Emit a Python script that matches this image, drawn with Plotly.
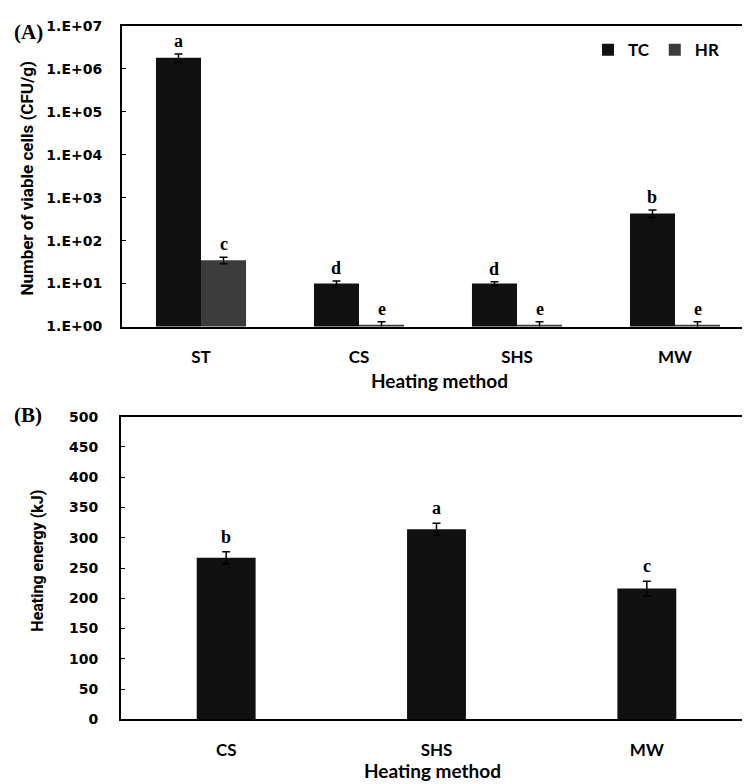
import math
import plotly.graph_objects as go

# ---------------- data ----------------
methods_a = ["ST", "CS", "SHS", "MW"]
tc_values = [1.8e6, 10.0, 10.0, 430.0]
tc_errors = [0.4e6, 1.5, 1.0, 85.0]
tc_letters = ["a", "d", "d", "b"]
hr_values = [35.0, 1.1, 1.1, 1.1]
hr_errors = [6.0, 0.2, 0.2, 0.2]
hr_letters = ["c", "e", "e", "e"]
log_tick_values = [1, 10, 100, 1e3, 1e4, 1e5, 1e6, 1e7]
log_tick_labels = ["1.E+00", "1.E+01", "1.E+02", "1.E+03", "1.E+04", "1.E+05", "1.E+06", "1.E+07"]

methods_b = ["CS", "SHS", "MW"]
energy_values = [267.0, 314.0, 216.0]
energy_errors = [10.0, 10.0, 12.0]
energy_letters = ["b", "a", "c"]
energy_ticks = [0, 50, 100, 150, 200, 250, 300, 350, 400, 450, 500]

# ---------------- style ----------------
W, H = 750, 784
TC_COLOR = "#111111"
HR_COLOR = "#3c3c3c"
TICK_FONT = dict(family="DejaVu Sans", size=14, color="black", weight="bold")
CAT_FONT = dict(family="Lato, Open Sans", size=17, color="black", weight="bold")
TITLE_FONT = dict(family="Lato, Open Sans", size=19, color="black", weight="bold")
YTITLE_FONT_A = dict(family="Liberation Sans Narrow, Arial Narrow, Roboto", size=17, color="black", weight="bold")
YTITLE_FONT_B = dict(family="Liberation Sans Narrow, Arial Narrow, Roboto", size=16, color="black", weight="bold")
LETTER_FONT = dict(family="Liberation Serif, DejaVu Serif", size=18, color="black", weight="bold")
PANEL_FONT = dict(family="Liberation Serif, DejaVu Serif", size=21, color="black", weight="bold")


def px_x(p):
    return p / W


def px_y(p):
    return 1 - p / H


BARGAP_A = 0.43
BARGAP_B = 0.72

fig = go.Figure()

err_style = dict(type="data", thickness=1.5, width=4, color="black")

fig.add_trace(go.Bar(
    x=methods_a, y=tc_values, name="TC", marker=dict(color=TC_COLOR, line=dict(width=0)),
    error_y=dict(array=tc_errors, **err_style), xaxis="x", yaxis="y", offsetgroup="tc",
))
fig.add_trace(go.Bar(
    x=methods_a, y=hr_values, name="HR", marker=dict(color=HR_COLOR, line=dict(width=0)),
    error_y=dict(array=hr_errors, **err_style), xaxis="x", yaxis="y", offsetgroup="hr",
))
fig.add_trace(go.Bar(
    x=methods_b, y=energy_values, name="Energy", showlegend=False,
    marker=dict(color=TC_COLOR, line=dict(width=0)), width=1 - BARGAP_B,
    error_y=dict(array=energy_errors, **err_style), xaxis="x2", yaxis="y2",
))

annotations = []
half = (1 - BARGAP_A) / 4
for i in range(len(methods_a)):
    annotations.append(dict(
        x=i - half, y=math.log10(tc_values[i] + tc_errors[i]), xref="x", yref="y",
        text=tc_letters[i], showarrow=False, yshift=13, font=LETTER_FONT, yanchor="middle"))
    annotations.append(dict(
        x=i + half, y=math.log10(hr_values[i] + hr_errors[i]), xref="x", yref="y",
        text=hr_letters[i], showarrow=False, yshift=13, font=LETTER_FONT, yanchor="middle"))
for i in range(len(methods_b)):
    annotations.append(dict(
        x=i, y=energy_values[i] + energy_errors[i], xref="x2", yref="y2",
        text=energy_letters[i], showarrow=False, yshift=15, font=LETTER_FONT, yanchor="middle"))

# panel labels and axis titles
annotations += [
    dict(x=px_x(20), y=px_y(16), xref="paper", yref="paper", text="(A)", showarrow=False,
         font=PANEL_FONT, xanchor="center", yanchor="middle"),
    dict(x=px_x(20), y=px_y(407), xref="paper", yref="paper", text="(B)", showarrow=False,
         font=PANEL_FONT, xanchor="center", yanchor="middle"),
    dict(x=px_x(432), y=px_y(372), xref="paper", yref="paper", text="Heating method", showarrow=False,
         font=TITLE_FONT, xanchor="center", yanchor="middle"),
    dict(x=px_x(424), y=0, xref="paper", yref="paper", text="Heating method", showarrow=False,
         font=TITLE_FONT, xanchor="center", yanchor="bottom"),
    dict(x=px_x(19), y=px_y(166), xref="paper", yref="paper", text="Number of viable cells (CFU/g)",
         showarrow=False, font=YTITLE_FONT_A, textangle=-90, xanchor="center", yanchor="middle"),
    dict(x=px_x(30), y=px_y(556), xref="paper", yref="paper", text="Heating energy (kJ)",
         showarrow=False, font=YTITLE_FONT_B, textangle=-90, xanchor="center", yanchor="middle"),
]

axis_common = dict(showline=True, linecolor="black", linewidth=2, mirror=True, showgrid=False, zeroline=False)

fig.update_layout(
    width=W, height=H,
    margin=dict(l=0, r=0, t=0, b=0),
    paper_bgcolor="white", plot_bgcolor="white",
    barmode="group", bargap=BARGAP_A, bargroupgap=0,
    showlegend=True,
    legend=dict(orientation="h", x=px_x(580), y=px_y(35), xanchor="left", yanchor="middle",
                font=dict(family="Lato, Open Sans", size=17, color="black", weight="bold"),
                bgcolor="rgba(0,0,0,0)", itemwidth=30, traceorder="normal"),
    xaxis=dict(domain=[px_x(114), px_x(746)], anchor="y", type="category", range=[-0.5, 3.5],
               ticks="", tickfont=CAT_FONT, ticklabelstandoff=14, **axis_common),
    yaxis=dict(domain=[px_y(317), px_y(10)], anchor="x", type="log", range=[0, 7],
               tickvals=log_tick_values, ticktext=log_tick_labels, ticks="inside", ticklen=4,
               tickcolor="black", tickfont=TICK_FONT, ticklabelstandoff=15, **axis_common),
    xaxis2=dict(domain=[px_x(113), px_x(744)], anchor="y2", type="category", range=[-0.5, 2.5],
                ticks="", tickfont=CAT_FONT, ticklabelstandoff=14, **axis_common),
    yaxis2=dict(domain=[px_y(718), px_y(409)], anchor="x2", range=[0, 500],
                tickvals=energy_ticks, ticks="inside", ticklen=4, tickcolor="black",
                tickfont=TICK_FONT, ticklabelstandoff=18, **axis_common),
    annotations=annotations,
)

fig.write_html("out.html")
